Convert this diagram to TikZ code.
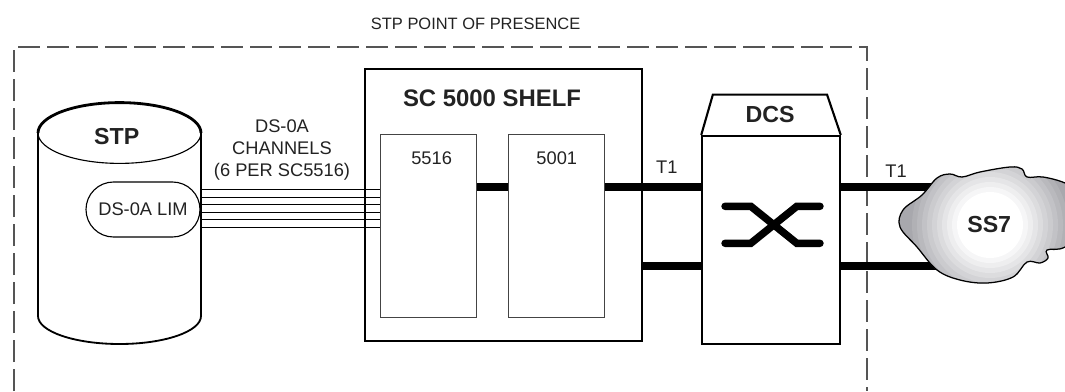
\documentclass[tikz,border=0pt]{standalone}
\usepackage{fontspec}
\setmainfont{Liberation Sans}
\usetikzlibrary{shapes.misc}
\definecolor{inktext}{HTML}{222222}
\definecolor{cardline}{HTML}{444444}
\definecolor{dashline}{HTML}{555555}
\definecolor{cloudgrey}{HTML}{A8A8AD}
\def\cloudoutline{plot[smooth cycle, tension=0.6] coordinates {
    (24.05,5.35) (24.5,5.475) (25.25,5.6) (25.55,5.55) (25.675,5.35) (26.075,5.35)
    (26.625,5.2) (27.125,4.9) (27.25,4.15) (26.625,3.6) (26.175,3.525) (26.2,3.325)
    (26,3.2) (25.675,3.225) (25.325,2.85) (24.675,2.7) (24,2.775) (23.425,3.025)
    (22.925,3.6) (22.5,4.1) (22.575,4.525) (23.05,4.9) (23.425,5.325) (23.75,5.425)}}
\begin{document}
\begin{tikzpicture}[
    heavybox/.style={draw, line width=1.5pt, minimum width=#1, inner sep=0pt},
    card/.style={draw=cardline, line width=0.8pt, minimum width=2.4cm,
                 minimum height=4.575cm, inner sep=0pt},
    trunk/.style={line width=5.3pt},
    channel/.style={line width=0.8pt},
    popline/.style={draw=dashline, line width=1pt, dash pattern=on 0.55cm off 0.175cm},
    tag/.style={font=\fontsize{13}{15.9}\selectfont, text=inktext, align=center},
    head/.style={font=\fontsize{16.5}{20}\selectfont\bfseries, text=inktext},
]
    \useasboundingbox (0,0) rectangle (26.625,9.775);
    \clip (0,0) rectangle (26.625,9.775);

    % point of presence
    \node[tag, font=\fontsize{11.7}{14}\selectfont] (poptitle) at (11.89, 9.175) {STP POINT OF PRESENCE};
    \draw[popline] (0.35,0) -- (0.35,8.6) -- (21.675,8.6) -- (21.675,0);

    % stp cylinder
    \draw[line width=1.3pt] (0.95,6.45) -- (0.95,1.875) arc[start angle=180, end angle=360, x radius=2.0375cm, y radius=0.7cm]
        -- (5.025,6.45);
    \draw[line width=0.8pt] (0.95,6.45) arc[start angle=180, end angle=360, x radius=2.0375cm, y radius=0.76cm];
    \draw[line width=2pt] (0.95,6.45) arc[start angle=180, end angle=0, x radius=2.0375cm, y radius=0.76cm];
    \node[head] (stp) at (2.92, 6.35) {STP};
    \node[draw, rounded rectangle, tag, line width=0.8pt, minimum width=2.85cm,
          minimum height=1.375cm, inner sep=0pt] (lim) at (3.575, 4.5375) {DS-0A LIM};
    \node[tag] (channels) at (7.05, 6.025) {DS-0A\\CHANNELS\\(6 PER SC5516)};

    % shelf
    \node[heavybox=6.91cm, minimum height=6.8cm] (shelf) at (12.59, 4.65) {};
    \node[head, font=\fontsize{17}{20}\selectfont\bfseries] (shelfname) at (12.3, 7.33) {SC 5000 SHELF};
    \node[card] (m5516) at (10.72, 4.115) {};
    \node[card] (m5001) at (13.92, 4.115) {};
    \node[tag] (name5516) at (10.79, 5.83) {5516};
    \node[tag] (name5001) at (13.92, 5.83) {5001};

    \draw[channel] ([yshift=0.49cm]lim.east) -- ([yshift=0.49cm]lim.east -| m5516.west);
    \draw[channel] ([yshift=0.30cm]lim.east) -- ([yshift=0.30cm]lim.east -| m5516.west);
    \draw[channel] ([yshift=0.115cm]lim.east) -- ([yshift=0.115cm]lim.east -| m5516.west);
    \draw[channel] ([yshift=-0.07cm]lim.east) -- ([yshift=-0.07cm]lim.east -| m5516.west);
    \draw[channel] ([yshift=-0.255cm]lim.east) -- ([yshift=-0.255cm]lim.east -| m5516.west);
    \draw[channel] ([yshift=-0.44cm]lim.east) -- ([yshift=-0.44cm]lim.east -| m5516.west);

    % dcs
    \node[heavybox=3.435cm, minimum height=5.2cm] (dcs) at (19.275, 3.775) {};
    \draw[line width=1.5pt] (dcs.north west) -- ++(0.29,1.0075) -- ++(2.855,0) -- (dcs.north east);
    \node[head] (dcsname) at (19.25, 6.9) {DCS};
    \draw[trunk, line cap=round] (18.125,4.6175) -- (18.77,4.6175) -- (19.92,3.6925) -- (20.5,3.6925);
    \draw[trunk, line cap=round] (18.125,3.6925) -- (18.77,3.6925) -- (19.92,4.6175) -- (20.5,4.6175);

    % t1 trunks
    \coordinate (cloudmid) at (24.75, 4.15);
    \draw[trunk] ([yshift=0.99cm]m5516.east) -- ([yshift=0.99cm]m5001.west);
    \draw[trunk] ([yshift=0.99cm]m5001.east) -- ([yshift=0.99cm]m5001.east -| dcs.west);
    \draw[trunk] ([yshift=-0.99cm]m5001.east -| shelf.east) -- ([yshift=-0.99cm]m5001.east -| dcs.west);
    \draw[trunk] ([yshift=0.99cm]m5001.east -| dcs.east) -- ([yshift=0.99cm]m5001.east -| cloudmid);
    \draw[trunk] ([yshift=-0.99cm]m5001.east -| dcs.east) -- ([yshift=-0.99cm]m5001.east -| cloudmid);
    \node[tag] (t1left) at (16.67, 5.6) {T1};
    \node[tag] (t1right) at (22.4, 5.5) {T1};

    % ss7 cloud
    \begin{scope}
        \clip \cloudoutline;
        \fill[cloudgrey] (20,0) rectangle (28,8);
        \fill[white!10!cloudgrey] (cloudmid) circle (1.95);
        \fill[white!20!cloudgrey] (cloudmid) circle (1.825);
        \fill[white!30!cloudgrey] (cloudmid) circle (1.7);
        \fill[white!40!cloudgrey] (cloudmid) circle (1.575);
        \fill[white!50!cloudgrey] (cloudmid) circle (1.45);
        \fill[white!60!cloudgrey] (cloudmid) circle (1.325);
        \fill[white!70!cloudgrey] (cloudmid) circle (1.2);
        \fill[white!80!cloudgrey] (cloudmid) circle (1.075);
        \fill[white!90!cloudgrey] (cloudmid) circle (0.95);
        \fill[white] (cloudmid) circle (0.825);
    \end{scope}
    \draw[line width=0.9pt] \cloudoutline;
    \node[head] (ss7) at (24.73, 4.15) {SS7};
\end{tikzpicture}
\end{document}
